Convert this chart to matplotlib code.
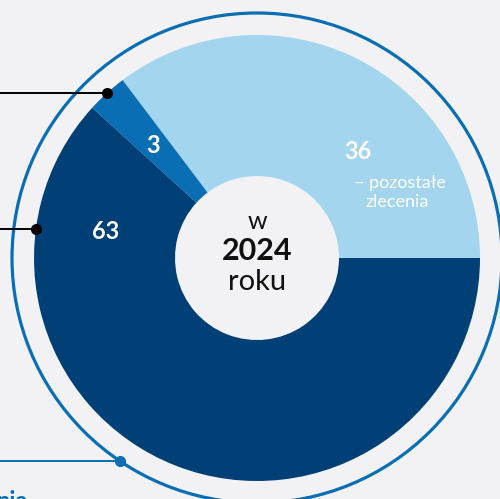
import numpy as np
import matplotlib.pyplot as plt
from matplotlib.patches import Circle

# values of the donut (they sum to 102, as in the source)
values = [36, 3, 63]
labels = ["36", "3", "63"]
colors = ["#a3d5ee", "#0a6eb4", "#004077"]

bg = "#f2f2f4"
ring_col = "#0a6eb4"
plt.rcParams['font.family'] = ['Lato', 'DejaVu Sans']

fig = plt.figure(figsize=(5, 4.99), dpi=100, facecolor=bg)
ax = fig.add_axes([0, 0, 1, 1], facecolor=bg)

cx, cy = 257, 241
r_out, r_in, r_ring = 223, 82, 245

wedges, _ = ax.pie(values, colors=colors, startangle=0, counterclock=True,
                   radius=r_out, center=(cx, cy),
                   wedgeprops=dict(width=r_out - r_in, linewidth=0))

# outer ring
ax.add_patch(Circle((cx, cy), r_ring, fill=False, ec=ring_col, lw=2.3))

# leader lines with dots
def leader(angle, radius, color):
    a = np.deg2rad(angle)
    x = cx + radius * np.cos(a)
    y = cy + radius * np.sin(a)
    ax.plot([0, x], [y, y], color=color, lw=1.4, solid_capstyle='butt')
    ax.plot(x, y, 'o', color=color, ms=7)

w3 = wedges[1]
leader((w3.theta1 + w3.theta2) / 2, r_out, "black")
leader(172.6, r_out, "black")
leader(236, r_ring, ring_col)

# slice labels
ax.text(358, 348, labels[0], color="white", fontsize=17, fontweight="bold",
        ha="center", va="center")
ax.text(400, 316, "– pozostałe", color="white", fontsize=13,
        ha="center", va="center")
ax.text(397, 297, "zlecenia", color="white", fontsize=13,
        ha="center", va="center")
ax.text(153, 354, labels[1], color="white", fontsize=17, fontweight="bold",
        ha="center", va="center")
ax.text(106, 268, labels[2], color="white", fontsize=17, fontweight="bold",
        ha="center", va="center")

# center text
ax.text(cx, 278, "w", color="#111111", fontsize=18, ha="center", va="center")
ax.text(cx, 248, "2024", color="#111111", fontsize=22, fontweight="bold",
        ha="center", va="center")
ax.text(cx, 217, "roku", color="#111111", fontsize=21, ha="center", va="center")

# cut-off text at bottom left
ax.text(-3, -10, "nia", color=ring_col, fontsize=17, fontweight="bold",
        ha="left", va="baseline")

ax.set_xlim(0, 500)
ax.set_ylim(0, 499)
ax.set_aspect('equal')
ax.axis('off')

fig.savefig("out.png", dpi=100, facecolor=bg)
